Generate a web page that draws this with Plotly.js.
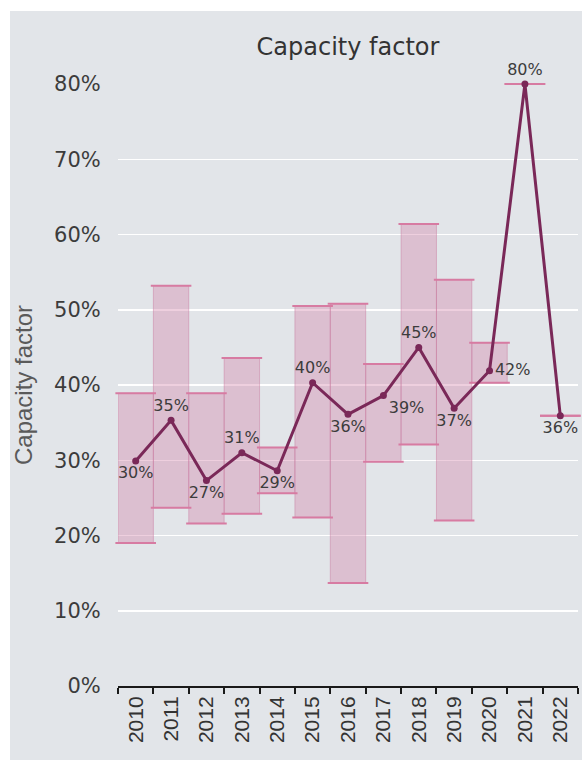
<!DOCTYPE html>
<html>
<head>
<meta charset="utf-8">
<script src="https://cdn.plot.ly/plotly-3.0.1.min.js"></script>
<style>
  html, body { margin: 0; padding: 0; background: #ffffff; }
  #chart { position: absolute; left: 10px; top: 11px; width: 572px; height: 749px; }
</style>
</head>
<body>
<div id="chart"></div>
<script>
const years = ['2010','2011','2012','2013','2014','2015','2016','2017','2018','2019','2020','2021','2022'];
const capacityFactor = [0.299, 0.353, 0.273, 0.310, 0.286, 0.403, 0.361, 0.386, 0.450, 0.369, 0.419, 0.800, 0.359];
const rangeMin = [0.190, 0.237, 0.216, 0.229, 0.256, 0.224, 0.137, 0.298, 0.321, 0.220, 0.403, 0.800, 0.359];
const rangeMax = [0.389, 0.532, 0.389, 0.436, 0.317, 0.505, 0.508, 0.428, 0.614, 0.540, 0.456, 0.800, 0.359];
const labelPositions = ['bottom center','top center','bottom center','top center','bottom center','top center',
  'bottom center','bottom right','top center','bottom center','middle right','top center','bottom center'];
const yTickVals = [0, 0.1, 0.2, 0.3, 0.4, 0.5, 0.6, 0.7, 0.8];
const chartTitle = 'Capacity factor';
const yTitle = 'Capacity factor';

const spans = rangeMax.map((v, i) => v - rangeMin[i]);

const edgeMarker = { symbol: 'line-ew', size: 29, color: '#d77ba2', line: { color: '#d77ba2', width: 2 } };

const traces = [
  {
    type: 'bar', x: years, y: spans, base: rangeMin, width: 1,
    marker: { color: 'rgba(210,128,168,0.38)', line: { color: 'rgba(200,120,158,0.45)', width: 1 } },
    hoverinfo: 'skip', showlegend: false
  },
  {
    type: 'scatter', mode: 'markers', x: years, y: rangeMax, marker: edgeMarker,
    hoverinfo: 'skip', showlegend: false, cliponaxis: false
  },
  {
    type: 'scatter', mode: 'markers', x: years, y: rangeMin, marker: edgeMarker,
    hoverinfo: 'skip', showlegend: false, cliponaxis: false
  },
  {
    type: 'scatter', mode: 'lines+markers+text', x: years, y: capacityFactor,
    line: { color: '#7a2858', width: 3 },
    marker: { color: '#7a2858', size: 7 },
    texttemplate: '%{y:.0%}', textposition: labelPositions,
    textfont: { family: 'DejaVu Sans, sans-serif', size: 16, color: '#3c3c3c' },
    showlegend: false, cliponaxis: false
  }
];

const layout = {
  width: 572, height: 749,
  paper_bgcolor: '#e2e5e9', plot_bgcolor: '#e2e5e9',
  margin: { l: 108, r: 4, t: 73, b: 74 },
  bargap: 0,
  title: {
    text: chartTitle, xref: 'paper', x: 0.5, xanchor: 'center',
    yref: 'container', y: 0.952, yanchor: 'middle',
    font: { family: 'DejaVu Sans, sans-serif', size: 24, color: '#333333' }
  },
  xaxis: {
    type: 'category', range: [-0.5, 12.5], fixedrange: true,
    showline: true, linecolor: '#1a1a1a', linewidth: 2,
    ticks: 'outside', tickson: 'boundaries', ticklen: 6, tickwidth: 2, tickcolor: '#1a1a1a',
    tickangle: -90, showgrid: false,
    tickfont: { family: 'Liberation Sans, Arial, sans-serif', size: 21, color: '#333333' }
  },
  yaxis: {
    range: [0, 0.8], tickvals: yTickVals, tickformat: '.0%', fixedrange: true,
    showgrid: true, gridcolor: '#ffffff', gridwidth: 1.5, zeroline: false, showline: false,
    ticks: 'outside', ticklen: 12, tickcolor: 'rgba(0,0,0,0)',
    tickfont: { family: 'DejaVu Sans, sans-serif', size: 21, color: '#3c3c3c' },
    title: { text: yTitle, standoff: 16,
      font: { family: 'Liberation Sans, Arial, sans-serif', size: 24, color: '#5a5a5a' } }
  }
};

Plotly.newPlot('chart', traces, layout, { displayModeBar: false, staticPlot: true });
</script>
</body>
</html>
